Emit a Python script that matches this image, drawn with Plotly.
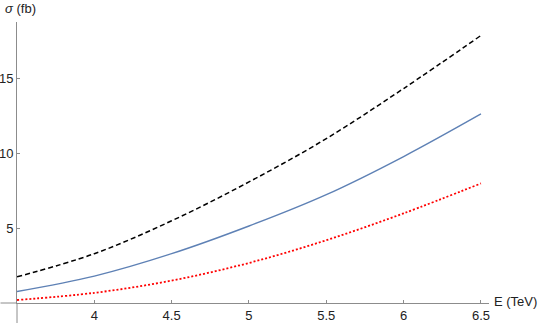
import plotly.graph_objects as go

# energy (TeV) and cross sections (fb)
energy = [3.5, 4.0, 4.5, 5.0, 5.5, 6.0, 6.5]
sigma_upper = [1.75, 3.3, 5.5, 8.1, 11.0, 14.35, 17.9]
sigma_central = [0.77, 1.8, 3.3, 5.15, 7.25, 9.8, 12.65]
sigma_lower = [0.2, 0.68, 1.5, 2.68, 4.2, 6.0, 8.0]

x_ticks = [4, 4.5, 5, 5.5, 6, 6.5]
x_ticktext = ["4", "4.5", "5", "5.5", "6", "6.5"]
y_ticks = [5, 10, 15]

W, H = 545, 323
ml, mt = 16.5, 22
pw, ph = 472.5, 281
mr, mb = W - ml - pw, H - mt - ph
axis_col = "#8c8c8c"
font = dict(family="Liberation Sans, Arial, sans-serif", size=13, color="#222")

fig = go.Figure()
fig.add_trace(go.Scatter(x=energy, y=sigma_upper, mode="lines", line_shape="spline",
                         line=dict(color="black", width=1.5, dash="5px,3px")))
fig.add_trace(go.Scatter(x=energy, y=sigma_central, mode="lines", line_shape="spline",
                         line=dict(color="#5E81B5", width=1.4)))
fig.add_trace(go.Scatter(x=energy, y=sigma_lower, mode="lines", line_shape="spline",
                         line=dict(color="red", width=1.8, dash="2px,2px")))

fig.update_layout(
    width=W, height=H,
    margin=dict(l=ml, r=mr, t=mt, b=mb, autoexpand=False),
    plot_bgcolor="white", paper_bgcolor="white",
    showlegend=False, font=font,
    xaxis=dict(range=[3.5, 6.552], showgrid=False, zeroline=False, automargin=False,
               showline=True, linecolor=axis_col, linewidth=1,
               tickvals=x_ticks, ticktext=x_ticktext,
               ticks="inside", ticklen=3, tickcolor=axis_col),
    yaxis=dict(range=[0, 18.8], showgrid=False, zeroline=False, automargin=False,
               showline=True, linecolor=axis_col, linewidth=1,
               tickvals=y_ticks,
               ticks="inside", ticklen=3, tickcolor=axis_col),
    shapes=[
        # axis extensions past the crossing point
        dict(type="line", xref="paper", yref="paper", x0=-ml / pw, x1=0, y0=0, y1=0,
             line=dict(color=axis_col, width=1)),
        dict(type="line", xref="paper", yref="paper", x0=0, x1=0, y0=-mb / ph, y1=0,
             line=dict(color=axis_col, width=1)),
    ],
    annotations=[
        dict(text="<i>σ</i> (fb)", xref="paper", yref="paper", x=-14 / pw, y=1 + 13.5 / ph,
             xanchor="left", yanchor="middle", showarrow=False, font=dict(size=13, color="#222")),
        dict(text="E (TeV)", xref="paper", yref="paper", x=1 + 3 / pw, y=2 / ph,
             xanchor="left", yanchor="middle", showarrow=False, font=dict(size=13, color="#222")),
    ],
)

# drop the default 8px body margin so the figure sits at the window corner
fig.write_html("out.html", config={"displayModeBar": False},
               post_script="document.body.style.margin='0';")
